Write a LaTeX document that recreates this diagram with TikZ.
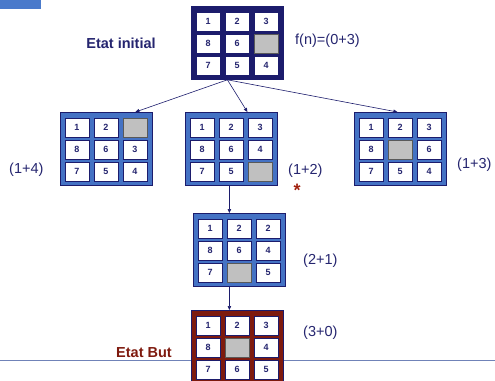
\documentclass[tikz,border=0pt]{standalone}
\usepackage{fontspec}
\setmainfont{Liberation Sans}
\usetikzlibrary{arrows.meta}

\definecolor{navy}{HTML}{1C1C6C}
\definecolor{inknavy}{HTML}{25256F}
\definecolor{tileblue}{HTML}{4472C4}
\definecolor{goalred}{HTML}{7E1A0E}
\definecolor{blankgray}{HTML}{C0C0C0}
\definecolor{rulecol}{HTML}{7083B8}
\definecolor{tabblue}{HTML}{4A7ACB}
\definecolor{starred}{HTML}{A0200E}

\tikzset{
  board/.style={draw=navy, line width=0.8pt, minimum width=92pt, minimum height=73pt,
    anchor=north west, inner sep=0pt},
  tile/.style={draw=navy, line width=0.7pt, fill=white, minimum width=24pt, minimum height=19pt,
    inner sep=0pt, font=\fontsize{9}{9}\selectfont\bfseries, text=inknavy},
  blank/.style={draw=gray!70!black, line width=0.6pt, fill=blankgray, minimum width=24pt,
    minimum height=19pt, inner sep=0pt},
  arr/.style={draw=navy, line width=0.6pt, -{Triangle[length=4pt,width=3.5pt]}},
  cost/.style={font=\fontsize{14.5}{16}\selectfont, text=inknavy, anchor=west, inner sep=0pt},
  title/.style={font=\fontsize{14.5}{16}\selectfont\bfseries, inner sep=0pt},
}

% #1 name, #2 x, #3 y (top-left), #4 frame colour, #5 tiles row by row (0 = empty)
\newcommand\puzzle[5]{%
  \node[board, fill=#4] (#1) at (#2,#3) {};
  \foreach \val [count=\k from 0] in {#5} {%
    \pgfmathtruncatemacro\col{mod(\k,3)}%
    \pgfmathtruncatemacro\row{div(\k,3)}%
    \ifnum\val=0
      \node[blank] (#1-\k) at ([shift={(\col*29+17,\row*22+15.5)}]#1.north west) {};
    \else
      \node[tile] (#1-\k) at ([shift={(\col*29+17,\row*22+15.5)}]#1.north west) {\val};
    \fi
  }%
}

\begin{document}
\begin{tikzpicture}[x=1pt,y=-1pt]
  \clip (0,0) rectangle (495,380);

  % corner tab
  \fill[tabblue] (0,0) rectangle (41,9);

  % base rule under the goal state
  \draw[rulecol, line width=0.9pt] (0,360) -- (495,360);

  % boards
  \puzzle{b0}{191}{6}{navy}{1,2,3,8,6,0,7,5,4}
  \puzzle{b1}{60}{112}{tileblue}{1,2,0,8,6,3,7,5,4}
  \puzzle{b2}{185}{112}{tileblue}{1,2,3,8,6,4,7,5,0}
  \puzzle{b3}{354}{112}{tileblue}{1,2,3,8,0,6,7,5,4}
  \puzzle{b4}{193}{213}{tileblue}{1,2,2,8,6,4,7,0,5}
  \puzzle{b5}{191}{310}{goalred}{1,2,3,8,0,4,7,6,5}

  % expansions
  \coordinate (fork) at ([xshift=-10pt]b0.south);
  \draw[arr] (fork) -- ([xshift=29pt]b1.north);
  \draw[arr] (fork) -- ([xshift=16pt]b2.north);
  \draw[arr] (fork) -- ([xshift=-3pt]b3.north);
  \draw[arr] ([xshift=-2pt]b2.south) -- ([xshift=-2pt]b2.south |- b4.north);
  \draw[arr] ([xshift=-10pt]b4.south) -- ([xshift=-10pt]b4.south |- b5.north);

  % labels
  \node[title, text=inknavy] (start) at (121,43) {Etat initial};
  \node[title, text=goalred, anchor=west] (goal) at (116,353) {Etat But};
  \node[cost] (f0) at (295,41) {f(n)=(0+3)};
  \node[cost] (f1) at (9,170) {(1+4)};
  \node[cost] (f2) at (288,171) {(1+2)};
  \node[cost] (f3) at (457,165) {(1+3)};
  \node[cost] (f4) at (303,261) {(2+1)};
  \node[cost] (f5) at (303,333) {(3+0)};
  \node[font=\fontsize{18}{18}\selectfont\bfseries, text=starred, inner sep=0pt, anchor=north]
    (best) at (297,184) {*};
\end{tikzpicture}
\end{document}
